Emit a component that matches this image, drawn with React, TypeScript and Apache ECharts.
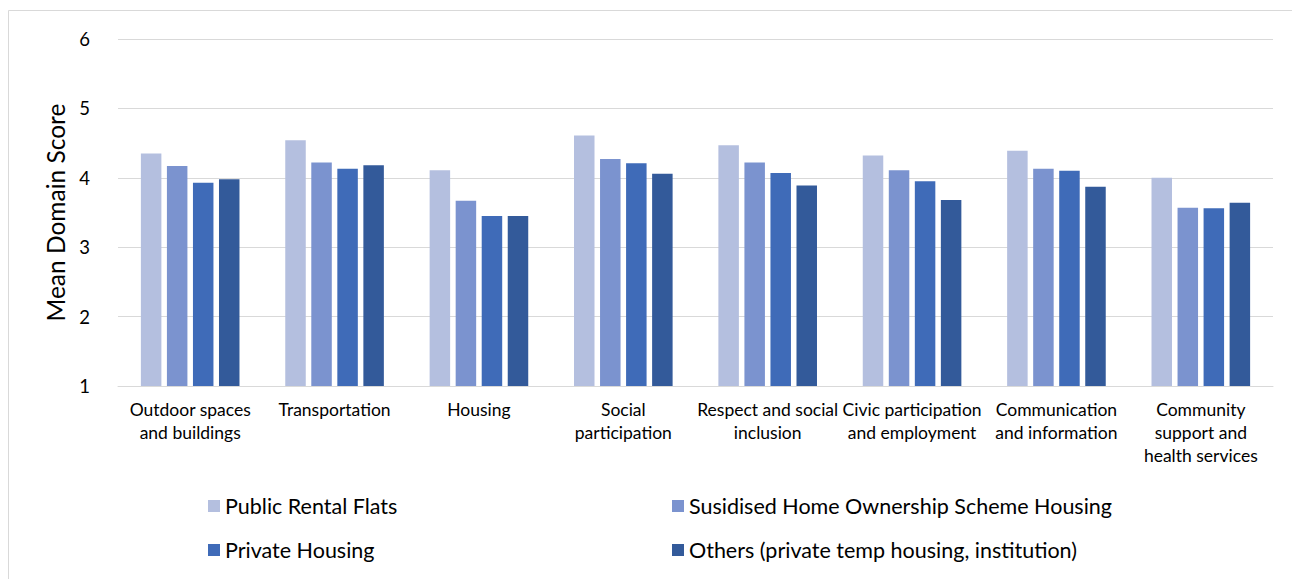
import React, { useEffect, useRef } from "react";
import * as echarts from "echarts";

const categories = [
  "Outdoor spaces\nand buildings",
  "Transportation",
  "Housing",
  "Social\nparticipation",
  "Respect and social\ninclusion",
  "Civic participation\nand employment",
  "Communication\nand information",
  "Community\nsupport and\nhealth services",
];

const seriesNames = [
  "Public Rental Flats",
  "Susidised Home Ownership Scheme Housing",
  "Private Housing",
  "Others (private temp housing, institution)",
];

const publicRental = [4.35, 4.54, 4.11, 4.61, 4.47, 4.32, 4.39, 4.0];
const subsidisedHOS = [4.17, 4.22, 3.67, 4.27, 4.22, 4.11, 4.13, 3.57];
const privateHousing = [3.93, 4.13, 3.45, 4.21, 4.07, 3.95, 4.1, 3.56];
const others = [3.98, 4.18, 3.45, 4.06, 3.89, 3.68, 3.87, 3.64];

const colors = ["#B4BFDF", "#7B93CF", "#3F6BB8", "#335A9A"];

const FONT = "Lato, 'Noto Sans', sans-serif";

export default function App() {
  const ref = useRef<HTMLDivElement>(null);
  useEffect(() => {
    if (!ref.current) return;
    const chart = echarts.init(ref.current, undefined, { renderer: "svg" });
    const values = [publicRental, subsidisedHOS, privateHousing, others];
    const legendPos = [
      { left: 203, top: 490 },
      { left: 667, top: 490 },
      { left: 203, top: 534 },
      { left: 667, top: 534 },
    ];
    chart.setOption({
      animation: false,
      textStyle: { fontFamily: FONT },
      graphic: [
        {
          type: "rect",
          shape: { x: 8.5, y: 10.5, width: 1400, height: 700 },
          style: { fill: "none", stroke: "#D9D9D9", lineWidth: 1 },
          silent: true,
        },
      ],
      legend: legendPos.map((p, i) => ({
        left: p.left,
        top: p.top,
        data: [seriesNames[i]],
        icon: "rect",
        itemWidth: 12,
        itemHeight: 12,
        textStyle: { fontSize: 21.5, color: "#000", fontFamily: FONT },
        selectedMode: false,
      })),
      grid: { left: 118, right: 19, top: 39, bottom: 193, containLabel: false },
      xAxis: {
        type: "category",
        data: categories,
        axisLine: { show: true, lineStyle: { color: "#D9D9D9", width: 1 } },
        axisTick: { show: false },
        axisLabel: {
          interval: 0,
          color: "#000",
          fontSize: 17.5,
          lineHeight: 23,
          margin: 12,
          fontFamily: FONT,
        },
      },
      yAxis: {
        type: "value",
        min: 1,
        max: 6,
        interval: 1,
        name: "Mean Domain Score",
        nameLocation: "middle",
        nameGap: 44,
        nameTextStyle: { fontSize: 24.5, color: "#000", fontFamily: FONT },
        axisLine: { show: false },
        axisTick: { show: false },
        splitLine: { lineStyle: { color: "#D9D9D9", width: 1 } },
        axisLabel: { color: "#000", fontSize: 18.5, margin: 28, fontFamily: FONT },
      },
      series: values.map((v, i) => ({
        name: seriesNames[i],
        type: "bar",
        data: v,
        barWidth: 20.5,
        barGap: "27%",
        itemStyle: { color: colors[i] },
      })),
    });
    return () => chart.dispose();
  }, []);
  return (
    <div
      ref={ref}
      style={{ position: "absolute", left: 0, top: 0, width: 1292, height: 579 }}
    />
  );
}
